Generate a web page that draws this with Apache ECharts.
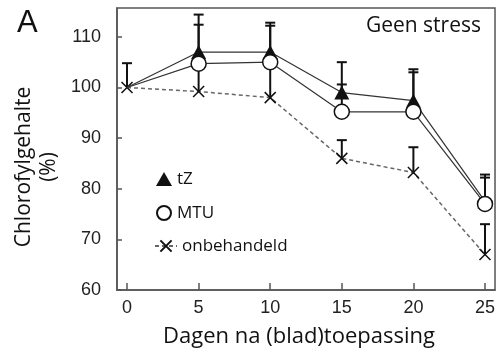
<!DOCTYPE html>
<html><head><meta charset="utf-8">
<script src="https://cdn.jsdelivr.net/npm/echarts@6/dist/echarts.min.js"></script>
<style>html,body{margin:0;padding:0;background:#fff}#c{width:498px;height:354px}</style>
</head><body><div id="c"></div>
<script>
const days = [0, 5, 10, 15, 20, 25];
const tZ = [100, 107, 107, 99, 97.4, 77.5];
const tZErrTop = [104.8, 114.4, 112.8, 105, 103.6, 82.8];
const MTU = [100, 104.7, 105, 95.2, 95.2, 77];
const MTUErrTop = [100, 112.4, 112.2, 100.6, 103, 82.2];
const onbehandeld = [100, 99.2, 98, 86, 83.2, 67];
const onbErrTop = [100, 104.7, 105, 89.6, 88.2, 73];
const yTicks = [60, 70, 80, 90, 100, 110];
const xTicks = [0, 5, 10, 15, 20, 25];

const chart = echarts.init(document.getElementById('c'));
// at day 0 only the cross marker is visible in the reference
const pairs = (vals, hideFirst) => days.map((d, i) =>
  (hideFirst && i === 0) ? { value: [d, vals[i]], symbol: 'none' } : [d, vals[i]]);
const errData = [];
[[tZ, tZErrTop], [MTU, MTUErrTop], [onbehandeld, onbErrTop]].forEach(([v, e]) => {
  days.forEach((d, i) => { if (e[i] > v[i]) errData.push([d, v[i], e[i]]); });
});
const axisFont = 'Liberation Sans';
const titleFont = 'Open Sans';
const legendText = { fontSize: 17, color: '#111', fontFamily: titleFont, lineHeight: 18 };
chart.setOption({
  animation: false,
  grid: { left: 117, right: 2, top: 8, bottom: 64, show: true, borderColor: '#555', borderWidth: 1.5 },
  xAxis: {
    type: 'value', min: -0.7, max: 25.7, splitNumber: 5,
    axisLine: { onZero: false, lineStyle: { color: '#555', width: 1.5 } },
    axisTick: { inside: true, length: 7, lineStyle: { color: '#555', width: 1.5 } },
    axisLabel: { showMinLabel: false, showMaxLabel: false, margin: 9, fontSize: 18, color: '#222', fontFamily: axisFont,
      formatter: v => xTicks.includes(v) ? String(v) : '' },
    splitLine: { show: false }
  },
  yAxis: {
    type: 'value', min: 60, max: 115.7, interval: 10,
    axisLine: { show: true, onZero: false, lineStyle: { color: '#555', width: 1.5 } },
    axisTick: { show: true, inside: true, length: 5, lineStyle: { color: '#555', width: 1.5 } },
    axisLabel: { showMaxLabel: false, margin: 16, fontSize: 18, color: '#222', fontFamily: axisFont,
      formatter: v => yTicks.includes(v) ? String(v) : '' },
    splitLine: { show: false }
  },
  legend: [
    {
      orient: 'vertical', left: 151, top: 165, itemWidth: 16, itemHeight: 14, itemGap: 16, itemTextGap: 14,
      textStyle: legendText,
      data: [{ name: 'tZ', icon: 'triangle' }, { name: 'MTU', icon: 'circle' }]
    },
    {
      orient: 'vertical', left: 149, top: 232, itemWidth: 22, itemHeight: 14, itemTextGap: 9,
      textStyle: legendText,
      data: [{ name: 'onbehandeld' }]
    }
  ],
  graphic: [
    { type: 'text', left: 17, top: 8, style: { text: 'A', font: '31px "Liberation Sans"', fill: '#111' } },
    { type: 'text', right: 17, top: 16, style: { text: 'Geen stress', font: '21px "Open Sans"', fill: '#111' } },
    { type: 'text', x: 37, y: 167, rotation: Math.PI / 2, style: { text: 'Chlorofylgehalte\n(%)', font: '21px "Open Sans"', lineHeight: 25, fill: '#111', align: 'center', verticalAlign: 'middle' } },
    { type: 'text', x: 299, y: 337, style: { text: 'Dagen na (blad)toepassing', font: '22px "Open Sans"', fill: '#111', align: 'center', verticalAlign: 'middle' } }
  ],
  series: [
    {
      type: 'custom', name: 'err', z: 1, silent: true, data: errData,
      renderItem: (params, api) => {
        const x = api.value(0), lo = api.value(1), hi = api.value(2);
        const p1 = api.coord([x, lo]), p2 = api.coord([x, hi]);
        const st = { stroke: '#111', lineWidth: 2 };
        return { type: 'group', children: [
          { type: 'line', shape: { x1: p1[0], y1: p1[1], x2: p2[0], y2: p2[1] }, style: st },
          { type: 'line', shape: { x1: p2[0] - 5, y1: p2[1], x2: p2[0] + 5, y2: p2[1] }, style: st }
        ] };
      }
    },
    {
      type: 'line', name: 'onbehandeld', z: 2, data: pairs(onbehandeld, false),
      symbol: 'path://M0,0L10,10M10,0L0,10', symbolSize: 11,
      lineStyle: { color: '#666', width: 1.5, type: [4, 3] },
      itemStyle: { color: 'rgba(0,0,0,0)', borderColor: '#111', borderWidth: 1.5 }
    },
    {
      type: 'line', name: 'tZ', z: 3, data: pairs(tZ, true),
      symbol: 'triangle', symbolSize: [15, 14],
      lineStyle: { color: '#333', width: 1.2 },
      itemStyle: { color: '#111', borderColor: '#111', borderWidth: 0 }
    },
    {
      type: 'line', name: 'MTU', z: 4, data: pairs(MTU, true),
      symbol: 'circle', symbolSize: 15,
      lineStyle: { color: '#333', width: 1.2 },
      itemStyle: { color: '#fff', borderColor: '#111', borderWidth: 1.5 }
    }
  ]
});
</script></body></html>
